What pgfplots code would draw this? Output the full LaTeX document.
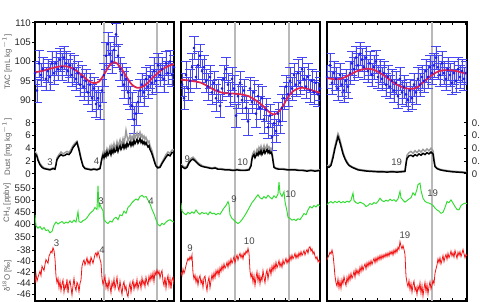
\documentclass[border=0pt]{standalone}
\usepackage{pgfplots}
\pgfplotsset{compat=1.18}
\usepackage{fontspec}
\setmainfont{Liberation Sans}

\definecolor{tacblue}{RGB}{25,25,235}
\definecolor{barblue}{RGB}{70,70,245}
\definecolor{tacfit}{RGB}{225,35,75}
\definecolor{dustgray}{RGB}{155,155,155}
\definecolor{chgreen}{RGB}{45,220,45}
\definecolor{isored}{RGB}{242,20,20}
\definecolor{jumpline}{RGB}{185,185,185}
\definecolor{annot}{RGB}{70,70,70}
\definecolor{axlabel}{RGB}{95,95,95}

\newcommand{\lblfont}{\fontsize{7.2}{8.5}\selectfont}
\newcommand{\namefont}{\fontsize{5.9}{7}\selectfont}

\pgfplotsset{
  pbase/.style={scale only axis, anchor=south west, height=209.25pt,
    /pgf/number format/assume math mode=true,
    tick label style={font=\lblfont, text=black!85},
    tick style={black, line width=0.6pt}, major tick length=2.4pt},
  p1/.style={pbase, at={(26.25pt,0.75pt)}, width=104.25pt, xmin=0, xmax=139},
  p2/.style={pbase, at={(135.75pt,0.75pt)}, width=104.25pt, xmin=0, xmax=139},
  p3/.style={pbase, at={(245.25pt,0.75pt)}, width=105pt, xmin=0, xmax=140},
  panelframe/.style={ymin=0, ymax=1, ytick=\empty, xticklabels={}, tick align=inside,
    axis line style={line width=0.9pt}},
  ovl/.style={axis x line=none, axis y line*=left, y axis line style={draw=none},
    tick align=outside, ytick=\empty, yticklabel style={inner sep=0.6pt}},
  tac/.style={ovl, ymin=38.03, ymax=110.22},
  dust/.style={ovl, ymin=-19.97, ymax=23.80},
  meth/.style={ovl, ymin=86, ymax=1231.7},
  iso/.style={ovl, ymin=-47.17, ymax=2.99},
  tacpts/.style={only marks, mark=*, mark size=0.8pt, draw=tacblue, fill=tacblue,
    error bars/.cd, y dir=both, y explicit,
    error bar style={line width=0.5pt, draw=barblue},
    error mark options={rotate=90, mark size=3.6pt, line width=0.5pt, draw=barblue}},
  tacfitline/.style={tacfit, line width=1.3pt, no marks, smooth},
  dustb/.style={black, line width=1.1pt, no marks},
  dustg/.style={dustgray, line width=1.1pt, no marks},
  methline/.style={chgreen, line width=0.7pt, no marks},
  isoline/.style={isored, line width=0.6pt, no marks},
  jump/.style={jumpline, line width=1pt, no marks},
}

\begin{document}
\begin{tikzpicture}
\useasboundingbox (0,0) rectangle (360pt,226.5pt);
\clip (0,0) rectangle (360pt,226.5pt);

% ---------------- section 1: interstadials 3 and 4 ----------------
\begin{axis}[p1, panelframe, xtick={10.7,21.8,...,139}, axis line style={line width=1.1pt}]
\addplot[jump] coordinates {(69,0) (69,1)};
\addplot[jump] coordinates {(122,0) (122,1)};
\end{axis}

\begin{axis}[p1, tac, ytick={90,95,100,105,110}]
\addplot[tacpts] coordinates {
(0,97.0) +- (0,3.0) (2,92.5) +- (0,3.0) (4,99.5) +- (0,3.5) (6,96.5) +- (0,3.0)
(8,98.0) +- (0,3.0) (11,95.5) +- (0,3.0) (13,97.5) +- (0,3.0) (15,96.0) +- (0,3.5)
(17,99.5) +- (0,3.0) (19,97.0) +- (0,3.0) (21,99.5) +- (0,3.0) (23,98.0) +- (0,3.0)
(25,100.5) +- (0,3.0) (27,98.5) +- (0,3.5) (29,101.0) +- (0,3.0) (31,99.5) +- (0,3.0)
(33,97.5) +- (0,3.0) (35,99.0) +- (0,3.0) (37,96.5) +- (0,3.0) (39,98.0) +- (0,3.5)
(41,95.5) +- (0,3.0) (43,97.0) +- (0,3.0) (45,94.0) +- (0,3.0) (47,96.0) +- (0,3.0)
(49,93.5) +- (0,3.5) (51,95.0) +- (0,3.0) (53,92.0) +- (0,3.0) (55,94.0) +- (0,3.0)
(57,90.5) +- (0,3.5) (59,93.0) +- (0,3.0) (61,89.0) +- (0,3.5) (63,90.5) +- (0,3.0)
(65,88.5) +- (0,3.5) (67,92.5) +- (0,3.0) (69,96.5) +- (0,3.0) (71,101.5) +- (0,3.5)
(73,104.5) +- (0,3.0) (75,102.0) +- (0,3.0) (77,100.0) +- (0,3.0) (79,103.0) +- (0,3.5)
(81,107.0) +- (0,3.0) (83,101.5) +- (0,3.0) (85,98.0) +- (0,3.0) (87,96.5) +- (0,3.0)
(89,94.0) +- (0,3.5) (91,95.5) +- (0,3.0) (93,92.0) +- (0,3.0) (95,90.5) +- (0,3.0)
(97,88.5) +- (0,3.5) (99,85.0) +- (0,3.5) (101,86.5) +- (0,3.0) (103,89.5) +- (0,3.0)
(105,92.5) +- (0,3.0) (107,94.0) +- (0,3.0) (109,92.0) +- (0,3.5) (111,95.5) +- (0,3.0)
(113,93.5) +- (0,3.0) (115,96.0) +- (0,3.0) (117,94.5) +- (0,3.0) (119,97.5) +- (0,3.5)
(121,95.0) +- (0,3.0) (123,99.0) +- (0,3.0) (125,96.5) +- (0,3.0) (127,98.0) +- (0,3.0)
(129,95.5) +- (0,3.5) (131,99.5) +- (0,3.0) (133,97.0) +- (0,3.0) (135,100.0) +- (0,3.0)
(137,96.5) +- (0,3.0) (139,98.5) +- (0,3.0)};
\addplot[tacfitline] coordinates {
(0,97.2) (8,97.6) (16,98.2) (24,98.7) (30,98.8) (36,98.4) (42,97.5) (48,96.2)
(54,94.9) (59,94.4) (64,94.8) (69,96.6) (74,98.8) (78,99.8) (82,99.5) (87,97.9)
(92,95.8) (97,94.0) (102,93.2) (107,93.4) (112,94.3) (118,95.9) (124,97.3)
(130,98.4) (135,99.0) (139,99.3)};
\end{axis}

\begin{axis}[p1, dust, ytick={0,2,4,6,8}]
\addplot[dustg] coordinates {
(0,3.5) (2,3.0) (3,2.3) (5,1.6) (7,1.2) (9,0.9) (12,0.8) (15,0.7) (18,0.9) (20,0.8)
(21,1.6) (22,2.5) (24,3.0) (26,3.4) (28,3.1) (30,3.3) (32,3.5) (34,3.3) (36,3.8)
(38,4.4) (40,4.8) (42,5.1) (44,4.0) (46,2.5) (48,1.3) (50,0.9) (53,0.8) (56,0.7)
(59,0.8) (62,0.7) (65,0.9)
(66,1.8) (67,2.7) (68,3.3) (69,2.9) (70,3.5) (71,3.2) (72,3.9) (73,3.4) (74,3.8)
(75,4.3) (76,3.6) (77,4.4) (78,3.9) (79,4.7) (80,4.0) (81,4.3) (82,5.0) (83,4.2)
(84,4.8) (85,5.3) (86,4.5) (87,4.9) (88,5.5) (89,4.8) (90,5.6) (91,6.8) (92,5.9)
(93,5.2) (94,5.5) (95,6.0) (96,5.3) (97,5.8) (98,5.4) (99,6.2) (100,5.6) (101,6.0)
(102,6.4) (103,5.7) (104,6.0) (105,6.5) (106,5.8) (107,6.1) (108,5.6) (109,5.9)
(110,5.4) (111,5.7) (112,5.3) (113,4.9) (114,5.1) (115,4.4) (116,4.0) (117,3.6)
(118,3.0) (119,2.4) (120,1.8) (121,1.4)
(123,1.0) (125,1.2) (127,1.8) (129,2.4) (131,3.0) (133,3.4) (135,3.2) (137,3.7) (139,3.8)};
\addplot[dustb] coordinates {
(0,3.2) (2,2.7) (3,2.1) (5,1.4) (7,1.0) (9,0.8) (12,0.7) (15,0.6) (18,0.8) (20,0.7)
(21,1.4) (22,2.2) (24,2.7) (26,3.0) (28,2.8) (30,2.9) (32,3.1) (34,3.0) (36,3.4)
(38,4.1) (40,4.5) (42,4.9) (44,3.7) (46,2.3) (48,1.2) (50,0.8) (53,0.7) (56,0.6)
(59,0.7) (62,0.6) (65,0.8)
(66,1.6) (67,2.4) (68,2.9) (69,2.5) (70,3.1) (71,2.7) (72,3.4) (73,2.9) (74,3.2)
(75,3.6) (76,3.0) (77,3.7) (78,3.3) (79,3.9) (80,3.4) (81,3.6) (82,4.2) (83,3.5)
(84,4.0) (85,4.4) (86,3.8) (87,4.1) (88,4.6) (89,4.0) (90,4.5) (91,4.1) (92,4.8)
(93,4.3) (94,4.6) (95,5.0) (96,4.4) (97,4.9) (98,4.5) (99,5.2) (100,4.7) (101,5.0)
(102,5.4) (103,4.8) (104,5.1) (105,5.5) (106,4.9) (107,5.2) (108,4.7) (109,5.0)
(110,4.6) (111,4.9) (112,4.5) (113,4.2) (114,4.4) (115,3.8) (116,3.5) (117,3.1)
(118,2.6) (119,2.1) (120,1.6) (121,1.2)
(123,0.9) (125,1.0) (127,1.6) (129,2.1) (131,2.6) (133,3.0) (135,2.8) (137,3.3) (139,3.4)};
\end{axis}

\begin{axis}[p1, meth, ytick={350,400,450,500,550}]
\addplot[methline] coordinates {
(0,440) (1,395) (3,385) (5,392) (7,380) (9,388) (11,375) (13,378) (15,366) (17,372)
(19,398) (21,410) (23,402) (25,408) (27,412) (29,404) (31,410) (33,406) (35,415)
(37,408) (39,418) (41,410) (43,452) (44,412) (46,408) (48,416) (50,420) (52,428)
(54,440) (56,450) (58,456) (60,470) (62,462) (63,560) (64,470) (65,482) (66,472)
(68,456) (69,420) (71,410) (73,404) (75,414) (77,410) (79,424) (81,430) (83,420)
(85,440) (87,436) (89,455) (91,446) (93,470) (95,478) (97,490) (99,498) (101,505)
(103,500) (105,515) (107,520) (109,512) (111,515) (113,500) (115,485) (117,462)
(119,444) (121,420) (123,400) (125,394) (127,405) (129,400) (131,410) (133,416)
(135,420) (137,414) (139,410)};
\end{axis}

\begin{axis}[p1, iso, ytick={-46,-44,-42,-40,-38}]
\addplot[isoline] coordinates {
(0,-44.0) (1,-42.3) (2,-43.6) (3,-42.9) (5,-41.8) (6,-42.6) (7,-40.9) (9,-41.7)
(10,-40.6) (11,-39.7) (13,-40.4) (14,-39.1) (15,-38.7) (16,-38.2) (17,-38.5)
(18,-37.6) (19,-38.1) (20,-39.6) (21,-42.7) (22,-43.9) (23,-43.1) (24,-44.8)
(25,-43.6) (26,-45.3) (27,-44.1) (28,-43.4) (29,-45.6) (30,-44.3) (31,-44.9)
(32,-43.2) (33,-45.8) (34,-44.0) (35,-43.5) (36,-44.7) (37,-46.1) (38,-44.4)
(39,-43.1) (40,-44.6) (41,-45.3) (42,-43.8) (43,-44.2) (44,-45.5) (45,-44.0)
(46,-43.4) (47,-40.9) (48,-40.2) (49,-39.8) (50,-40.7) (51,-40.1) (52,-39.4)
(53,-40.5) (54,-39.9) (55,-40.6) (56,-39.3) (57,-39.8) (58,-40.4) (59,-39.6)
(60,-38.8) (61,-38.5) (62,-39.2) (63,-38.3) (64,-38.9) (65,-39.7) (66,-40.3)
(67,-43.1) (68,-44.2) (69,-43.5) (70,-42.7) (71,-44.8) (72,-43.9) (73,-45.1)
(74,-43.3) (75,-44.4) (76,-45.7) (77,-43.8) (78,-44.6) (79,-43.2) (80,-45.0)
(81,-44.1) (82,-42.9) (83,-44.7) (84,-45.3) (85,-43.6) (86,-44.9) (87,-46.0)
(88,-44.3) (89,-43.7) (90,-45.2) (91,-44.5) (92,-45.9) (93,-46.4) (94,-44.8)
(95,-43.9) (96,-45.6) (97,-44.2) (98,-43.5) (99,-45.1) (100,-44.0) (101,-44.7)
(102,-43.3) (103,-45.0) (104,-44.1) (105,-43.6) (106,-44.9) (107,-43.0) (108,-44.2)
(109,-43.5) (110,-44.6) (111,-42.9) (112,-43.8) (113,-44.3) (114,-42.7) (115,-43.6)
(116,-42.4) (117,-43.3) (118,-42.1) (119,-43.7) (120,-41.9) (121,-42.5) (122,-41.6)
(123,-42.3) (124,-41.8) (125,-43.0) (126,-42.2) (127,-41.7) (128,-43.6) (129,-44.4)
(130,-42.8) (131,-44.9) (132,-43.4) (133,-42.6) (134,-44.5) (135,-43.1) (136,-45.0)
(137,-43.3) (138,-42.9) (139,-44.2)};
\end{axis}

% ---------------- section 2: interstadials 9 and 10 ----------------
\begin{axis}[p2, panelframe, xtick={11.3,22.97,...,139}]
\addplot[jump] coordinates {(54,0) (54,1)};
\addplot[jump] coordinates {(108,0) (108,1)};
\end{axis}

\begin{axis}[p2, tac]
\addplot[tacpts] coordinates {
(1,94.0) +- (0,3.0) (3,90.5) +- (0,3.0) (5,96.5) +- (0,3.5) (7,93.0) +- (0,3.0)
(9,95.0) +- (0,3.0) (11,98.5) +- (0,3.5) (13,103.5) +- (0,3.0) (15,96.0) +- (0,3.0)
(17,99.0) +- (0,3.5) (19,101.5) +- (0,3.0) (21,97.5) +- (0,3.0) (23,98.5) +- (0,3.0)
(25,95.0) +- (0,3.0) (27,93.5) +- (0,3.5) (29,96.0) +- (0,3.0) (31,92.0) +- (0,3.0)
(33,94.5) +- (0,3.0) (35,90.5) +- (0,3.5) (37,92.5) +- (0,3.0) (39,88.5) +- (0,3.0)
(41,93.0) +- (0,3.0) (43,95.5) +- (0,3.5) (45,98.0) +- (0,3.0) (47,94.0) +- (0,3.0)
(49,91.5) +- (0,3.0) (51,95.5) +- (0,3.0) (53,93.0) +- (0,3.5) (55,86.0) +- (0,3.0)
(57,91.0) +- (0,3.0) (59,94.5) +- (0,3.0) (61,90.0) +- (0,3.5) (63,92.5) +- (0,3.0)
(65,88.0) +- (0,3.0) (67,84.5) +- (0,3.5) (69,93.0) +- (0,3.0) (71,89.5) +- (0,3.0)
(73,92.0) +- (0,3.0) (75,86.5) +- (0,3.5) (77,91.0) +- (0,3.0) (79,88.0) +- (0,3.0)
(81,90.5) +- (0,3.0) (83,85.0) +- (0,3.5) (85,87.5) +- (0,3.0) (87,83.0) +- (0,3.0)
(89,86.0) +- (0,3.0) (91,80.5) +- (0,3.5) (93,84.0) +- (0,3.0) (95,82.0) +- (0,3.0)
(97,86.5) +- (0,3.0) (99,84.5) +- (0,3.0) (101,88.0) +- (0,3.5) (103,90.5) +- (0,3.0)
(105,93.5) +- (0,3.0) (107,91.5) +- (0,3.0) (109,95.0) +- (0,3.5) (111,93.0) +- (0,3.0)
(113,96.5) +- (0,3.0) (115,94.0) +- (0,3.0) (117,97.0) +- (0,3.5) (119,94.5) +- (0,3.0)
(121,98.0) +- (0,3.0) (123,95.5) +- (0,3.0) (125,93.5) +- (0,3.0) (127,96.0) +- (0,3.5)
(129,92.5) +- (0,3.0) (131,95.0) +- (0,3.0) (133,92.0) +- (0,3.0) (135,94.5) +- (0,3.0)
(137,91.5) +- (0,3.0) (139,93.0) +- (0,3.0)};
\addplot[tacfitline] coordinates {
(0,95.3) (10,95.0) (20,94.5) (28,93.4) (36,92.3) (44,91.8) (52,91.7) (60,91.5)
(68,91.0) (75,89.9) (82,88.5) (87,87.2) (92,86.3) (97,86.8) (102,88.5) (107,90.8)
(112,92.3) (117,93.0) (122,93.2) (128,92.8) (134,92.3) (139,91.9)};
\end{axis}

\begin{axis}[p2, dust]
\addplot[dustg] coordinates {
(0,1.5) (2,1.2) (4,1.0) (6,1.2) (8,1.9) (10,2.4) (12,2.6) (14,2.3) (16,1.9) (18,1.6)
(20,1.4) (22,1.2) (25,1.1) (28,1.0) (31,0.9) (34,1.0) (37,0.8) (40,0.8) (44,0.7)
(48,0.7) (52,0.6) (56,0.7) (60,0.6) (64,0.6) (68,0.7) (70,1.4) (71,2.7) (72,3.2)
(73,3.5) (74,2.9) (75,3.3) (76,3.8) (77,3.4) (78,4.1) (79,3.7) (80,4.3) (81,3.6)
(82,3.9) (83,4.4) (84,3.8) (85,4.1) (86,4.5) (87,3.9) (88,4.2) (89,3.8) (90,4.0)
(91,3.5) (92,2.3) (93,1.1) (95,0.9) (98,0.8) (102,0.8) (106,0.7) (110,0.7) (114,0.7)
(118,0.6) (122,0.6) (126,0.5) (130,0.6) (134,0.5) (139,0.6)};
\addplot[dustb] coordinates {
(0,1.3) (2,1.0) (4,0.8) (6,1.0) (8,1.7) (10,2.1) (12,2.3) (14,2.0) (16,1.7) (18,1.4)
(20,1.2) (22,1.1) (25,1.0) (28,0.9) (31,0.8) (34,0.9) (37,0.7) (40,0.7) (44,0.6)
(48,0.6) (52,0.5) (56,0.6) (60,0.5) (64,0.5) (68,0.6) (70,1.2) (71,2.3) (72,2.8)
(73,3.0) (74,2.5) (75,2.8) (76,3.2) (77,2.9) (78,3.4) (79,3.1) (80,3.6) (81,3.0)
(82,3.3) (83,3.7) (84,3.2) (85,3.5) (86,3.8) (87,3.3) (88,3.6) (89,3.2) (90,3.4)
(91,3.0) (92,2.0) (93,1.0) (95,0.8) (98,0.7) (102,0.7) (106,0.6) (110,0.6) (114,0.6)
(118,0.5) (122,0.5) (126,0.4) (130,0.5) (134,0.4) (139,0.5)};
\end{axis}

\begin{axis}[p2, meth]
\addplot[methline] coordinates {
(0,488) (1,455) (3,446) (5,440) (7,450) (9,444) (11,452) (13,446) (15,460) (17,448)
(19,442) (21,450) (23,445) (25,448) (27,440) (29,452) (31,444) (33,447) (35,440)
(37,446) (39,442) (41,455) (43,468) (45,478) (47,494) (48,482) (49,440) (51,425)
(53,418) (55,410) (57,404) (59,410) (61,420) (63,432) (65,445) (67,460) (69,475)
(71,490) (73,500) (75,512) (77,522) (79,510) (81,505) (83,515) (85,508) (87,520)
(89,512) (91,505) (93,518) (95,510) (97,525) (98,574) (99,530) (101,515) (103,535)
(104,494) (106,455) (107,430) (109,425) (111,418) (113,422) (115,416) (117,424)
(119,420) (121,432) (123,445) (125,440) (127,460) (129,474) (131,468) (133,478)
(135,472) (137,482) (139,476)};
\end{axis}

\begin{axis}[p2, iso]
\addplot[isoline] coordinates {
(0,-41.9) (1,-42.6) (2,-41.4) (3,-42.2) (4,-41.6) (5,-40.8) (6,-40.1) (7,-39.5)
(8,-39.9) (9,-39.2) (10,-39.7) (11,-38.9) (12,-42.1) (13,-43.2) (14,-42.5)
(15,-43.8) (16,-42.9) (17,-44.3) (18,-43.1) (19,-42.6) (20,-44.0) (21,-43.4)
(22,-44.7) (23,-43.0) (24,-42.7) (25,-44.2) (26,-45.3) (27,-43.6) (28,-42.9)
(29,-44.8) (30,-43.5) (31,-42.4) (32,-43.3) (33,-42.1) (34,-43.0) (35,-41.7)
(36,-42.4) (37,-41.5) (38,-42.6) (39,-41.2) (40,-41.9) (41,-40.8) (42,-41.6)
(43,-40.5) (44,-41.3) (45,-40.9) (46,-40.2) (47,-41.1) (48,-40.0) (49,-40.7)
(50,-39.6) (51,-40.4) (52,-39.9) (53,-39.2) (54,-40.3) (55,-39.5) (56,-38.9)
(57,-39.8) (58,-39.1) (59,-38.6) (60,-39.4) (61,-38.8) (62,-39.6) (63,-38.5)
(64,-38.9) (65,-38.2) (66,-38.6) (67,-37.7) (68,-38.5) (69,-41.8) (70,-42.9)
(71,-42.2) (72,-43.8) (73,-42.6) (74,-44.4) (75,-43.0) (76,-41.9) (77,-43.6)
(78,-42.4) (79,-44.1) (80,-42.8) (81,-43.5) (82,-41.7) (83,-42.9) (84,-43.9)
(85,-42.3) (86,-41.6) (87,-43.2) (88,-42.0) (89,-41.3) (90,-42.4) (91,-40.9)
(92,-41.8) (93,-40.6) (94,-41.5) (95,-40.2) (96,-41.2) (97,-40.7) (98,-39.9)
(99,-41.0) (100,-40.3) (101,-41.1) (102,-39.8) (103,-40.6) (104,-40.1) (105,-39.5)
(106,-40.4) (107,-39.7) (108,-40.2) (109,-39.1) (110,-39.8) (111,-38.9) (112,-39.6)
(113,-39.2) (114,-38.6) (115,-39.5) (116,-38.8) (117,-39.4) (118,-38.5) (119,-39.1)
(120,-38.3) (121,-39.0) (122,-38.6) (123,-38.1) (124,-38.9) (125,-38.3) (126,-37.9)
(127,-38.6) (128,-37.6) (129,-37.4) (130,-38.2) (131,-37.8) (132,-38.7) (133,-38.3)
(134,-39.1) (135,-39.6) (136,-39.2) (137,-40.1) (138,-39.8) (139,-40.4)};
\end{axis}

% ---------------- section 3: interstadial 19 ----------------
\begin{axis}[p3, panelframe, xtick={13,25.5,...,140}]
\addplot[jump] coordinates {(105,0) (105,1)};
\end{axis}

\begin{axis}[p3, tac]
\addplot[tacpts] coordinates {
(0,96.0) +- (0,3.0) (3,99.0) +- (0,3.0) (5,94.5) +- (0,3.0) (7,97.0) +- (0,3.0)
(9,95.5) +- (0,3.0) (11,93.0) +- (0,3.0) (13,96.5) +- (0,3.0) (15,94.0) +- (0,3.0)
(17,92.5) +- (0,3.0) (19,95.0) +- (0,3.0) (21,93.5) +- (0,3.0) (23,97.0) +- (0,3.0)
(25,99.5) +- (0,3.0) (27,98.0) +- (0,3.0) (29,101.0) +- (0,3.0) (31,99.0) +- (0,3.0)
(33,102.0) +- (0,3.0) (35,100.5) +- (0,3.0) (37,98.5) +- (0,3.0) (39,101.0) +- (0,3.0)
(41,97.5) +- (0,3.0) (43,99.5) +- (0,3.0) (45,96.5) +- (0,3.0) (47,98.5) +- (0,3.0)
(49,100.0) +- (0,3.0) (51,96.0) +- (0,3.0) (53,97.5) +- (0,3.0) (55,95.5) +- (0,3.0)
(57,97.0) +- (0,3.0) (59,94.0) +- (0,3.0) (61,96.0) +- (0,3.0) (63,93.5) +- (0,3.0)
(65,95.0) +- (0,3.0) (67,92.5) +- (0,3.0) (69,94.5) +- (0,3.0) (71,91.0) +- (0,3.0)
(73,95.5) +- (0,3.0) (75,92.0) +- (0,3.0) (77,93.5) +- (0,3.0) (79,91.5) +- (0,3.0)
(81,90.0) +- (0,3.0) (83,92.5) +- (0,3.0) (85,90.5) +- (0,3.0) (87,94.0) +- (0,3.0)
(89,92.0) +- (0,3.0) (91,95.5) +- (0,3.0) (93,94.0) +- (0,3.0) (95,96.0) +- (0,3.0)
(97,95.0) +- (0,3.0) (99,97.5) +- (0,3.0) (101,96.0) +- (0,3.0) (103,98.5) +- (0,3.0)
(105,97.0) +- (0,3.0) (107,99.0) +- (0,3.0) (109,101.0) +- (0,3.0) (111,98.5) +- (0,3.0)
(113,96.5) +- (0,3.0) (115,99.5) +- (0,3.0) (117,97.0) +- (0,3.0) (119,95.5) +- (0,3.0)
(121,98.0) +- (0,3.0) (123,96.5) +- (0,3.0) (125,94.5) +- (0,3.0) (127,97.0) +- (0,3.0)
(129,95.0) +- (0,3.0) (131,98.0) +- (0,3.0) (133,96.0) +- (0,3.0) (135,97.5) +- (0,3.0)
(137,95.5) +- (0,3.0) (139,97.0) +- (0,3.0)};
\addplot[tacfitline] coordinates {
(0,95.7) (8,95.4) (15,95.6) (22,96.5) (30,97.5) (38,98.1) (45,98.0) (52,97.2)
(60,95.8) (68,94.3) (76,93.3) (84,92.9) (90,93.3) (97,94.8) (105,96.5) (112,97.5)
(120,97.8) (128,97.6) (134,97.2) (140,96.8)};
\end{axis}

\begin{axis}[p3, dust]
\addplot[dustg] coordinates {
(0,1.3) (2,1.2) (4,1.6) (6,2.9) (8,4.4) (10,5.7) (11,6.3) (12,5.9) (14,4.7) (16,3.4)
(18,2.5) (20,1.9) (22,1.4) (25,1.1) (28,0.9) (31,0.7) (35,0.6) (40,0.5) (45,0.45)
(50,0.4) (55,0.4) (60,0.35) (65,0.4) (70,0.35) (75,0.4) (78,0.45) (79,1.8) (80,2.9)
(82,3.3) (84,3.5) (86,3.2) (88,3.6) (90,3.3) (92,3.7) (94,3.4) (96,3.8) (98,3.5)
(100,3.9) (102,3.6) (104,4.0) (106,3.6) (107,2.4) (108,1.3) (110,0.9) (113,0.7)
(116,0.6) (120,0.5) (125,0.4) (130,0.35) (135,0.3) (140,0.2)};
\addplot[dustb] coordinates {
(0,1.1) (2,1.0) (4,1.3) (6,2.5) (8,4.0) (10,5.2) (11,5.8) (12,5.4) (14,4.3) (16,3.1)
(18,2.3) (20,1.7) (22,1.3) (25,1.0) (28,0.8) (31,0.6) (35,0.5) (40,0.4) (45,0.35)
(50,0.3) (55,0.3) (60,0.25) (65,0.3) (70,0.25) (75,0.3) (78,0.35) (79,1.5) (80,2.4)
(82,2.8) (84,2.9) (86,2.7) (88,3.0) (90,2.8) (92,3.1) (94,2.9) (96,3.2) (98,3.0)
(100,3.3) (102,3.1) (104,3.4) (106,3.1) (107,2.0) (108,1.1) (110,0.8) (113,0.6)
(116,0.5) (120,0.4) (125,0.3) (130,0.25) (135,0.2) (140,0.1)};
\end{axis}

% second dust scale on the right-hand edge
\begin{axis}[p3, axis x line=none, axis y line*=right, y axis line style={draw=none},
  tick align=inside, ymin=-1.997, ymax=2.380, ytick={0,0.2,0.4,0.6,0.8},
  yticklabel style={/pgf/number format/fixed, inner sep=1pt, xshift=2.5pt}]
\addplot[draw=none] coordinates {(0,0)};
\end{axis}

\begin{axis}[p3, meth]
\addplot[methline] coordinates {
(0,481) (2,490) (4,494) (6,488) (8,495) (10,490) (12,496) (14,489) (16,494) (18,490)
(20,496) (22,492) (24,500) (26,529) (27,498) (29,490) (31,486) (33,492) (35,488)
(37,484) (39,474) (41,478) (43,486) (45,482) (47,490) (49,486) (51,495) (53,508)
(55,498) (57,494) (59,500) (61,496) (63,504) (65,498) (67,502) (69,495) (71,505)
(73,536) (74,510) (76,500) (78,492) (80,498) (82,505) (84,510) (86,530) (88,520)
(90,545) (91,564) (93,570) (94,540) (96,508) (98,495) (100,490) (102,488) (104,484)
(106,478) (108,468) (110,460) (112,455) (114,446) (116,450) (118,470) (120,494)
(122,490) (124,501) (126,488) (128,474) (130,462) (132,460) (134,478) (136,484)
(138,488) (140,486)};
\end{axis}

\begin{axis}[p3, iso]
\addplot[isoline] coordinates {
(0,-39.8) (1,-39.3) (2,-38.9) (3,-38.4) (4,-38.7) (5,-38.0) (6,-38.8) (7,-40.6)
(8,-42.7) (9,-43.9) (10,-44.5) (11,-43.2) (12,-44.8) (13,-43.6) (14,-44.9)
(15,-43.3) (16,-44.1) (17,-42.8) (18,-43.7) (19,-44.4) (20,-42.9) (21,-43.8)
(22,-42.5) (23,-43.4) (24,-42.2) (25,-43.1) (26,-42.6) (27,-41.8) (28,-42.9)
(29,-41.5) (30,-42.3) (31,-41.6) (32,-42.4) (33,-41.1) (34,-41.9) (35,-40.8)
(36,-41.7) (37,-41.0) (38,-40.5) (39,-41.4) (40,-40.3) (41,-41.0) (42,-40.1)
(43,-40.8) (44,-39.9) (45,-40.6) (46,-40.0) (47,-39.5) (48,-40.3) (49,-39.4)
(50,-40.1) (51,-39.2) (52,-39.8) (53,-39.0) (54,-39.7) (55,-38.9) (56,-39.5)
(57,-38.8) (58,-39.3) (59,-38.6) (60,-39.2) (61,-38.5) (62,-39.1) (63,-38.3)
(64,-38.8) (65,-38.2) (66,-38.9) (67,-38.0) (68,-38.6) (69,-37.8) (70,-38.4)
(71,-37.5) (72,-37.9) (73,-36.5) (74,-37.3) (75,-37.8) (76,-37.2) (77,-37.9)
(78,-38.8) (79,-42.7) (80,-43.9) (81,-44.6) (82,-43.5) (83,-45.1) (84,-44.0)
(85,-45.6) (86,-44.3) (87,-43.6) (88,-45.3) (89,-44.7) (90,-46.0) (91,-44.5)
(92,-45.2) (93,-43.9) (94,-45.8) (95,-44.4) (96,-46.3) (97,-44.9) (98,-43.8)
(99,-45.5) (100,-44.2) (101,-45.9) (102,-44.6) (103,-43.7) (104,-45.0) (105,-44.3)
(106,-43.5) (107,-44.1) (108,-42.2) (109,-41.4) (110,-40.7) (111,-39.6) (112,-40.3)
(113,-39.4) (114,-40.5) (115,-39.8) (116,-39.0) (117,-40.1) (118,-39.3) (119,-38.8)
(120,-39.7) (121,-38.6) (122,-39.4) (123,-38.9) (124,-38.2) (125,-39.1) (126,-38.5)
(127,-39.3) (128,-38.1) (129,-38.8) (130,-39.5) (131,-38.4) (132,-39.0) (133,-38.3)
(134,-39.2) (135,-38.6) (136,-37.9) (137,-38.7) (138,-39.4) (139,-38.8) (140,-39.1)};
\end{axis}

% ---------------- quantity names ----------------
\begin{scope}[every node/.style={font=\namefont, text=axlabel, rotate=90, inner sep=0pt}]
\node at (5.25pt,180pt) {TAC [mL kg$^{-1}$]};
\node at (5.25pt,116.25pt) {Dust [mg kg$^{-1}$]};
\node at (5.25pt,74.25pt) {CH\textsubscript{4} [ppbv]};
\node at (5.25pt,19.5pt) {δ\textsuperscript{18}O [‰]};
\end{scope}

% ---------------- interstadial numbers ----------------
\begin{scope}[every node/.style={font=\lblfont, text=annot, inner sep=0pt}]
\node at (37.5pt,104.5pt) {3};
\node at (72.5pt,105.75pt) {4};
\node at (75.75pt,75.25pt) {3};
\node at (113.25pt,75.25pt) {4};
\node at (42.5pt,44pt) {3};
\node at (76.5pt,39pt) {4};
\node at (140.5pt,107pt) {9};
\node at (182pt,104.5pt) {10};
\node at (175.5pt,77pt) {9};
\node at (218pt,81pt) {10};
\node at (142.5pt,40.25pt) {9};
\node at (187pt,45.25pt) {10};
\node at (297.5pt,104.5pt) {19};
\node at (324.5pt,81.5pt) {19};
\node at (303.75pt,50.25pt) {19};
\end{scope}
\end{tikzpicture}
\end{document}
